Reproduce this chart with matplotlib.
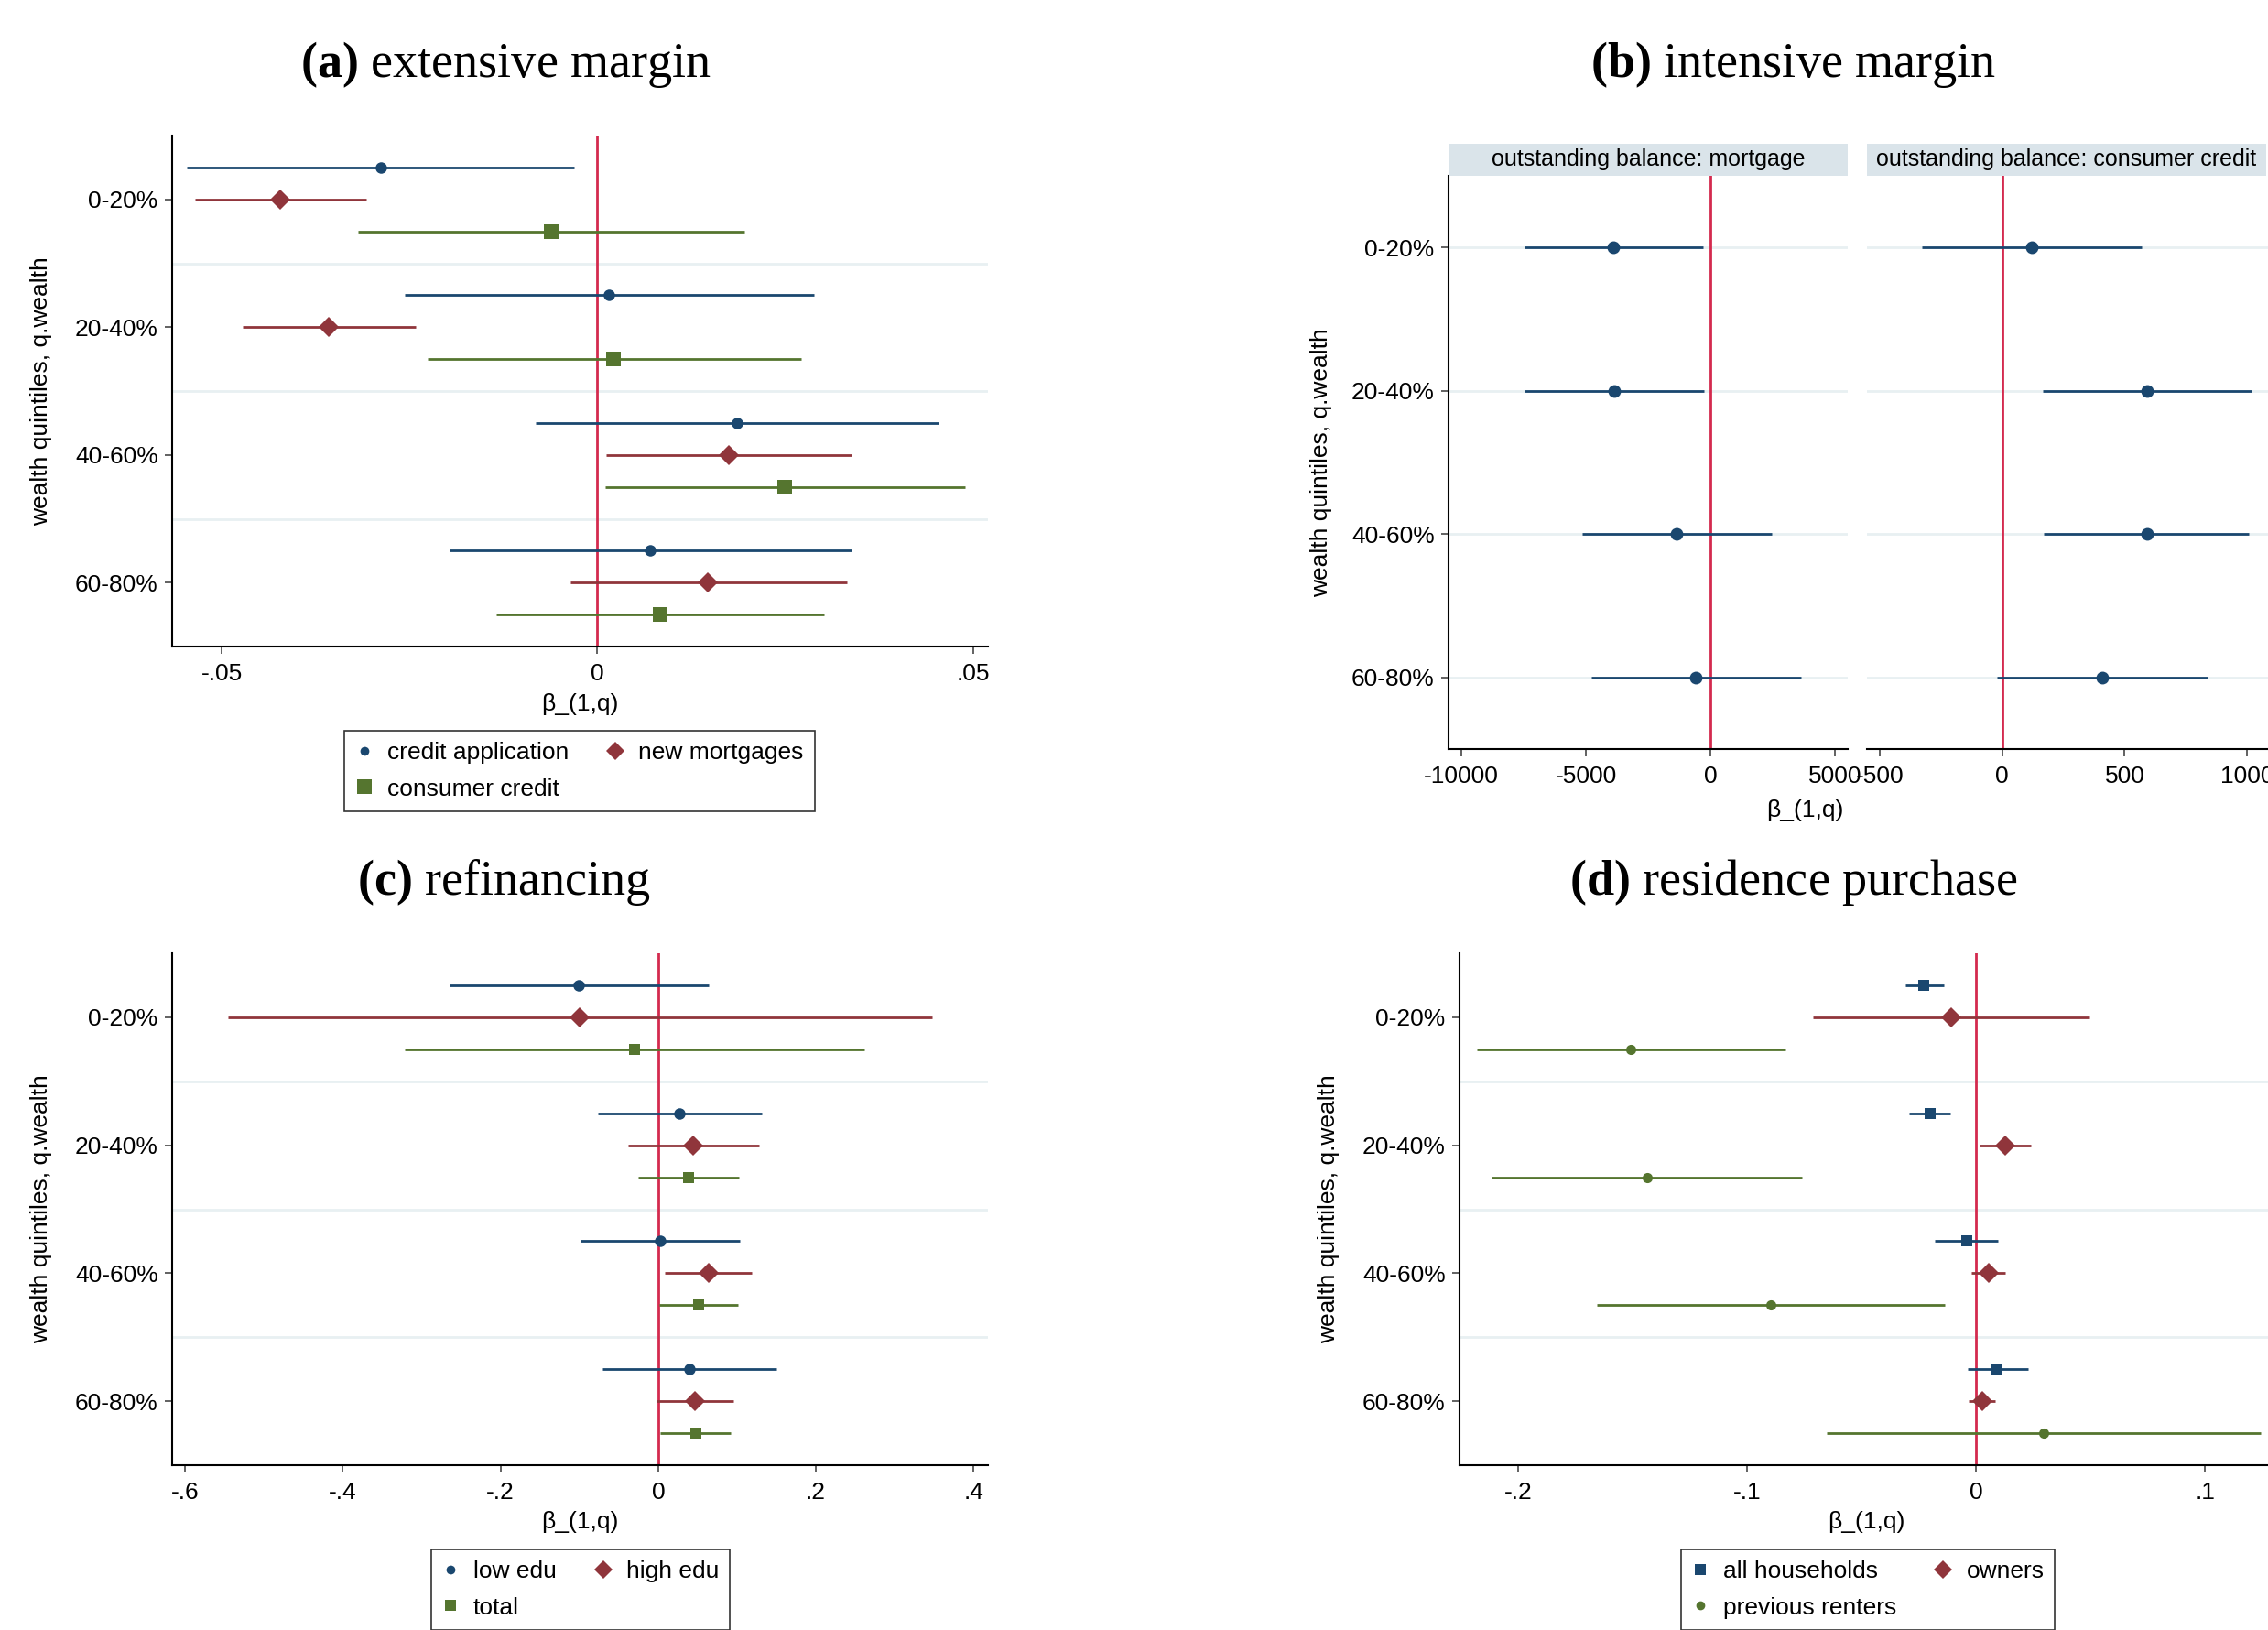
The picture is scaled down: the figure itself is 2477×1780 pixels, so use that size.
import numpy as np
import matplotlib
matplotlib.use('Agg')
import matplotlib.pyplot as plt
from matplotlib.lines import Line2D

plt.rcParams['font.family'] = ['Liberation Sans', 'DejaVu Sans']
plt.rcParams['mathtext.fontset'] = 'custom'
plt.rcParams['mathtext.rm'] = 'Liberation Serif'
plt.rcParams['mathtext.bf'] = 'Liberation Serif:bold'

quintiles = ['0-20%', '20-40%', '40-60%', '60-80%']

# (a) extensive margin
a_credit = [-0.0288, 0.0016, 0.0186, 0.0070]
a_credit_lo = [-0.0546, -0.0256, -0.0082, -0.0197]
a_credit_hi = [-0.0031, 0.0288, 0.0454, 0.0338]
a_mort = [-0.0422, -0.0357, 0.0175, 0.0147]
a_mort_lo = [-0.0536, -0.0472, 0.0012, -0.0036]
a_mort_hi = [-0.0308, -0.0242, 0.0338, 0.0332]
a_cons = [-0.0062, 0.0022, 0.0249, 0.0084]
a_cons_lo = [-0.0319, -0.0226, 0.0011, -0.0134]
a_cons_hi = [0.0196, 0.0271, 0.0489, 0.0302]

# (b) intensive margin
b_mort = [-3889, -3860, -1364, -580]
b_mort_lo = [-7458, -7458, -5136, -4788]
b_mort_hi = [-290, -261, 2467, 3656]
b_cons = [120, 593, 590, 408]
b_cons_lo = [-329, 167, 170, -21]
b_cons_hi = [570, 1016, 1007, 837]

# (c) refinancing
c_low = [-0.1007, 0.0268, 0.0028, 0.0397]
c_low_lo = [-0.265, -0.0767, -0.098, -0.0711]
c_low_hi = [0.0637, 0.132, 0.104, 0.1497]
c_high = [-0.0998, 0.0443, 0.0637, 0.0462]
c_high_lo = [-0.546, -0.0379, 0.0083, -0.0018]
c_high_hi = [0.347, 0.1275, 0.119, 0.0951]
c_tot = [-0.0296, 0.0388, 0.0508, 0.048]
c_tot_lo = [-0.321, -0.0259, 0.0009, 0.0028]
c_tot_hi = [0.261, 0.1025, 0.1007, 0.0924]

# (d) residence purchase
d_all = [-0.0227, -0.0202, -0.0041, 0.0091]
d_all_lo = [-0.0309, -0.0293, -0.018, -0.0038]
d_all_hi = [-0.0142, -0.0114, 0.0095, 0.0227]
d_own = [-0.0107, 0.0129, 0.0054, 0.0028]
d_own_lo = [-0.0713, 0.0016, -0.0019, -0.0032]
d_own_hi = [0.0495, 0.024, 0.0129, 0.0085]
d_rent = [-0.1508, -0.1435, -0.0896, 0.0297]
d_rent_lo = [-0.218, -0.2114, -0.1656, -0.065]
d_rent_hi = [-0.0833, -0.076, -0.0136, 0.1243]

navy = '#1a476f'
maroon = '#90353b'
green = '#55752f'
zero_red = '#d42a4e'
sep = '#e8f0f2'

W, H = 2477, 1780
fig = plt.figure(figsize=(W / 100, H / 100), dpi=100)
FS = 19


def box(l, t, r, b):
    return [l / W, 1 - b / H, (r - l) / W, (b - t) / H]


def style(ax, xticks, xlabels, xlim, yticks=True):
    for s in ['top', 'right']:
        ax.spines[s].set_visible(False)
    ax.spines['left'].set_linewidth(1.5)
    ax.spines['bottom'].set_linewidth(1.5)
    ax.set_xlim(xlim)
    ax.set_ylim(4.5, 0.5)
    ax.set_xticks(xticks)
    ax.set_xticklabels(xlabels)
    ax.tick_params(axis='x', labelsize=FS, length=6, width=1.3, color='#555555', pad=7)
    if yticks:
        ax.set_yticks(range(1, 5))
        ax.set_yticklabels(quintiles)
        ax.tick_params(axis='y', labelsize=FS, length=6, width=1.3, color='#555555', pad=5)
    else:
        ax.spines['left'].set_visible(False)
        ax.set_yticks(range(1, 5))
        ax.tick_params(axis='y', left=False, labelleft=False)


def forest(ax, series):
    ax.axvline(0, color=zero_red, lw=2, zorder=1)
    for y in [1.5, 2.5, 3.5]:
        ax.axhline(y, color=sep, lw=2, zorder=0)
    pos = np.arange(1, 5)
    for k, (b, lo, hi, color, marker, ms) in enumerate(series):
        y = pos + (k - 1) * 0.25
        ax.hlines(y, lo, hi, color=color, lw=2, zorder=2)
        ax.plot(b, y, linestyle='none', marker=marker, color=color, ms=ms,
                markeredgewidth=0, zorder=3)


def legend(ax, handles, cx, top):
    leg = ax.legend(handles=handles, ncol=2, loc='upper center',
                    bbox_to_anchor=(cx / W, 1 - top / H), bbox_transform=fig.transFigure,
                    fontsize=FS, frameon=True, fancybox=False, edgecolor='black',
                    handlelength=0.7, handletextpad=0.6, columnspacing=1.6,
                    labelspacing=0.6, borderpad=0.45, borderaxespad=0)
    leg.get_frame().set_linewidth(1.2)


def h(marker, color, ms, label):
    return Line2D([], [], linestyle='none', marker=marker, color=color, ms=ms,
                  markeredgewidth=0, label=label)


def title(x, y, letter, text):
    fig.text(x / W, 1 - y / H, r'$\mathbf{(' + letter + ')}$ ' + text,
             fontsize=39, family='Liberation Serif', ha='center', va='baseline')


def xlab(x, y):
    fig.text(x / W, 1 - y / H, 'β_(1,q)', fontsize=FS, ha='center', va='center')


# ---- (a)
ax_a = fig.add_axes(box(188, 148, 1079, 706))
forest(ax_a, [(a_credit, a_credit_lo, a_credit_hi, navy, 'o', 9),
              (a_mort, a_mort_lo, a_mort_hi, maroon, 'D', 11),
              (a_cons, a_cons_lo, a_cons_hi, green, 's', 12)])
style(ax_a, [-0.05, 0, 0.05], ['-.05', '0', '.05'], (-0.0566, 0.052))
ax_a.set_ylabel('wealth quintiles, q.wealth', fontsize=FS)
ax_a.yaxis.set_label_coords((57 - 188) / 891, 0.5)
legend(ax_a, [h('o', navy, 7, 'credit application'), h('s', green, 11, 'consumer credit'),
              h('D', maroon, 10, 'new mortgages')], 633, 798)
title(553, 84, 'a', 'extensive margin')
xlab(633, 769)

# ---- (b)
facets = [('outstanding balance: mortgage', b_mort, b_mort_lo, b_mort_hi,
           (1582, 2018), (-10515, 5515), [-10000, -5000, 0, 5000]),
          ('outstanding balance: consumer credit', b_cons, b_cons_lo, b_cons_hi,
           (2039, 2477), (-552, 1085), [-500, 0, 500, 1000])]
for i, (name, b, lo, hi, (l, r), xl, xt) in enumerate(facets):
    ax = fig.add_axes(box(l, 192, r, 818))
    ax.axvline(0, color=zero_red, lw=2, zorder=1)
    for y in range(1, 5):
        ax.axhline(y, color=sep, lw=2, zorder=0)
    ax.hlines(range(1, 5), lo, hi, color=navy, lw=2, zorder=2)
    ax.plot(b, range(1, 5), linestyle='none', marker='o', color=navy, ms=10,
            markeredgewidth=0, zorder=3)
    style(ax, xt, [str(v) for v in xt], xl, yticks=(i == 0))
    if i == 0:
        ax.set_ylabel('wealth quintiles, q.wealth', fontsize=FS)
        ax.yaxis.set_label_coords((1455 - l) / (r - l), 0.5)
    # strip header; the right one runs past the figure edge
    sr = r if i == 0 else l + (2018 - 1582)
    strip = fig.add_axes(box(l, 157, sr, 192))
    strip.set_facecolor('#dae4ea')
    for s in strip.spines.values():
        s.set_visible(False)
    strip.set_xticks([])
    strip.set_yticks([])
    strip.text(0.5, 0.5, name, transform=strip.transAxes, ha='center', va='center',
               fontsize=18)
title(1959, 84, 'b', 'intensive margin')
xlab(1971, 885)

# ---- (c)
ax_c = fig.add_axes(box(188, 1041, 1079, 1600))
forest(ax_c, [(c_low, c_low_lo, c_low_hi, navy, 'o', 9),
              (c_high, c_high_lo, c_high_hi, maroon, 'D', 11),
              (c_tot, c_tot_lo, c_tot_hi, green, 's', 9)])
style(ax_c, [-0.6, -0.4, -0.2, 0, 0.2, 0.4], ['-.6', '-.4', '-.2', '0', '.2', '.4'],
      (-0.6165, 0.4183))
ax_c.set_ylabel('wealth quintiles, q.wealth', fontsize=FS)
ax_c.yaxis.set_label_coords((57 - 188) / 891, 0.5)
legend(ax_c, [h('o', navy, 7, 'low edu'), h('s', green, 8, 'total'),
              h('D', maroon, 10, 'high edu')], 634, 1692)
title(551, 977, 'c', 'refinancing')
xlab(633, 1662)

# ---- (d)
ax_d = fig.add_axes(box(1594, 1041, 2485, 1600))
forest(ax_d, [(d_all, d_all_lo, d_all_hi, navy, 's', 9),
              (d_own, d_own_lo, d_own_hi, maroon, 'D', 11),
              (d_rent, d_rent_lo, d_rent_hi, green, 'o', 8)])
style(ax_d, [-0.2, -0.1, 0, 0.1], ['-.2', '-.1', '0', '.1'], (-0.2255, 0.1307))
ax_d.set_ylabel('wealth quintiles, q.wealth', fontsize=FS)
ax_d.yaxis.set_label_coords((1463 - 1594) / 891, 0.5)
legend(ax_d, [h('s', navy, 8, 'all households'), h('o', green, 7, 'previous renters'),
              h('D', maroon, 10, 'owners')], 2040, 1692)
title(1959, 977, 'd', 'residence purchase')
xlab(2038, 1662)

fig.savefig('out.png', dpi=100, facecolor='white')
